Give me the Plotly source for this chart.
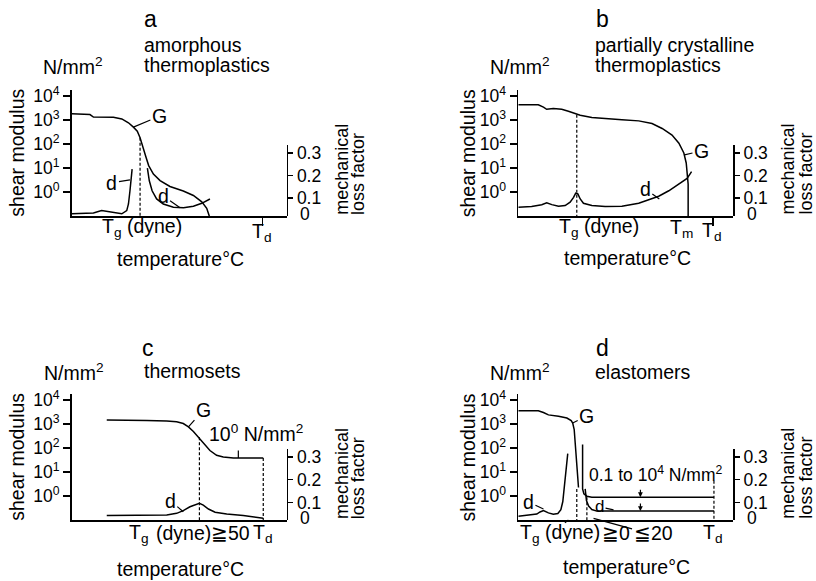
import numpy as np
import plotly.graph_objects as go

W, H = 816, 581
FONT = "Liberation Sans, Arial, Helvetica, sans-serif"

# ---------------- data (temperature in relative units 0-100) ----------------
G_MIN = 0.1  # bottom of the shear-modulus axis (N/mm^2)

# a: amorphous thermoplastics
a_G_temp = [0, 8.5, 10.1, 19.4, 23.3, 26.4, 28.7, 30.5, 31.8, 33.3, 34.6, 35.8, 38.0,
            41.1, 45.7, 51.9, 56.6, 60.5, 62.8, 64.0]
a_G = [1780, 1660, 1320, 1300, 1100, 760, 500, 340, 182, 60, 27.5, 12.6, 5.6,
       3.0, 1.7, 1.1, 0.72, 0.39, 0.21, 0.1]
a_d1_temp = [0, 7, 10.1, 13.9, 17.1, 20.2, 23.3, 25.6, 26.4, 27.1, 27.6, 28.1]
a_d1 = [0.032, 0.032, 0.035, 0.046, 0.042, 0.035, 0.032, 0.046, 0.075, 0.133, 0.184, 0.228]
a_d2_temp = [35.2, 36.1, 37.4, 39.5, 42.6, 47.3, 52.0, 56.6, 60.5, 64.3]
a_d2 = [0.232, 0.177, 0.133, 0.097, 0.075, 0.061, 0.058, 0.065, 0.078, 0.097]
a_Tg, a_Tg_G, a_Td = 31.8, 182, 88.7

# b: partially crystalline thermoplastics
b_G_temp = [0, 9.3, 11.7, 13.2, 16.3, 20.2, 23.3, 26.4, 28.8, 34.2, 40.4, 48.2, 56.0,
            62.2, 66.9, 71.5, 74.7, 77.0, 78.1, 78.5, 79.0, 79.0]
b_G = [4270, 4270, 3390, 2750, 2950, 2750, 2290, 1820, 1550, 1260, 1120, 1020, 910,
       710, 440, 234, 107, 42, 16.2, 7.2, 2.1, 0.1]
b_d_temp = [0, 6.2, 10.9, 13.2, 15.6, 18.7, 21.8, 24.1, 25.7, 26.7, 27.7, 28.8, 30.3,
            34.2, 40.4, 48.2, 56.0, 60.6, 65.3, 70.0, 74.6, 78.5, 80.6]
b_d = [0.061, 0.064, 0.072, 0.080, 0.072, 0.065, 0.068, 0.083, 0.104, 0.122, 0.119, 0.097,
       0.078, 0.068, 0.064, 0.065, 0.078, 0.093, 0.109, 0.133, 0.162, 0.187, 0.217]
b_Tg, b_Tg_G, b_Td = 27.2, 1620, 90.7

# c: thermosets
c_G_temp = [16.3, 25.6, 34.9, 44.2, 48.8, 51.9, 54.3, 56.6, 58.9, 61.2, 64.3, 67.4,
            70.5, 75.2, 81.4, 89.1]
c_G = [1480, 1480, 1410, 1320, 1230, 1050, 760, 490, 282, 151, 79, 50, 43, 39, 39, 39]
c_d_temp = [16.3, 33.3, 44.2, 48.8, 51.9, 55.0, 57.4, 59.4, 61.2, 63.6, 66.7, 72.1, 79.8, 89.1]
c_d = [0.042, 0.042, 0.045, 0.052, 0.064, 0.081, 0.091, 0.096, 0.088, 0.071, 0.057,
       0.049, 0.042, 0.030]
c_Tg, c_Tg_G, c_Td, c_Td_G = 59.4, 282, 89.1, 39

# d: elastomers
d_G_temp = [0, 9.3, 11.7, 14.0, 18.7, 22.6, 24.6, 25.3, 26.0, 26.4, 26.9, 27.2, 27.5, 28.0]
d_G = [3550, 3550, 3020, 2400, 2090, 1780, 1380, 1100, 590, 166, 47, 13.2, 5.1, 2.3]
d_hi_temp = [29.9, 29.9, 30.5, 31.9, 34.2, 91.0]
d_hi = [141, 2.0, 1.26, 1.0, 0.91, 0.91]
d_lo_temp = [31.1, 31.7, 32.7, 34.2, 36.5, 91.0]
d_lo = [2.0, 0.66, 0.39, 0.28, 0.24, 0.24]
d_d_temp = [0, 3.1, 6.2, 8.6, 10.1, 11.7, 14.0, 16.3, 18.4, 19.8, 20.7, 21.3, 21.9, 22.6, 23.0]
d_d = [0.039, 0.042, 0.045, 0.049, 0.058, 0.064, 0.054, 0.048, 0.051, 0.068, 0.104,
       0.162, 0.235, 0.286, 0.314]
d_Tg, d_Tg_G = 27.2, 2.0
d_T20, d_T20_G = 31.9, 0.91
d_Td, d_Td_G = 91.0, 4.4

G_tickvals = [1, 10, 100, 1000, 10000]
G_ticktext = ["10<sup>0</sup>", "10<sup>1</sup>", "10<sup>2</sup>", "10<sup>3</sup>", "10<sup>4</sup>"]
d_tickvals = [0.1, 0.2, 0.3]
d_ticktext = ["0.1", "0.2", "0.3"]

# ---------------- geometry (pixels) ----------------
PW = 215.0          # plot width
GH = 127.6          # height of shear-modulus axis
DH = 72.3           # height of loss-factor axis
G_RANGE = [-1, 4.25]
D_RANGE = [0.0217, 0.336]
LW = 1.7
CW = 1.5
TICKF = 17.5
TXT = 19.5
TDY = -4.5   # vertical correction for text boxes

panels = [
    dict(xl=71.7, yb=212.3, td=a_Td),
    dict(xl=518.3, yb=212.3, td=b_Td),
    dict(xl=71.7, yb=519.6, td=None),
    dict(xl=518.3, yb=519.6, td=None),
]

fig = go.Figure()
layout = dict(width=W, height=H, margin=dict(l=0, r=0, t=0, b=0),
              paper_bgcolor="white", plot_bgcolor="rgba(0,0,0,0)", showlegend=False,
              font=dict(family=FONT, size=TXT, color="black"))

axref = []
for k, p in enumerate(panels, start=1):
    xl, yb = p["xl"], p["yb"]
    xid = "" if k == 1 else str(k)
    yl = 2 * k - 1
    yr = 2 * k
    yl_id = "" if yl == 1 else str(yl)
    layout["xaxis" + xid] = dict(
        domain=[xl / W, (xl + PW) / W], range=[0, 100], anchor="y" + yl_id,
        showline=True, linecolor="black", linewidth=LW, showgrid=False, zeroline=False,
        showticklabels=False, ticks="outside" if p["td"] is not None else "",
        tickvals=[p["td"]] if p["td"] is not None else [], ticklen=8, tickwidth=LW,
        tickcolor="black", fixedrange=True)
    layout["yaxis" + yl_id] = dict(
        domain=[1 - yb / H, 1 - (yb - GH) / H], type="log", range=G_RANGE,
        anchor="x" + xid, showline=True, linecolor="black", linewidth=LW,
        showgrid=False, zeroline=False, ticks="outside", ticklen=7, tickwidth=LW,
        tickcolor="black", tickvals=G_tickvals, ticktext=G_ticktext,
        tickfont=dict(size=TICKF), fixedrange=True)
    layout["yaxis" + str(yr)] = dict(
        domain=[1 - yb / H, 1 - (yb - DH) / H], range=D_RANGE, anchor="x" + xid,
        side="right", showline=True, linecolor="black", linewidth=LW,
        showgrid=False, zeroline=False, ticks="outside", ticklen=5, tickwidth=LW,
        tickcolor="black", tickvals=d_tickvals, ticktext=d_ticktext,
        tickfont=dict(size=TICKF), fixedrange=True)
    axref.append(("x" + xid, "y" + yl_id, "y" + str(yr)))


def line(ax, x, y, dash=None, right=False):
    xa, ya, yb_ = ax
    fig.add_trace(go.Scatter(x=x, y=y, mode="lines", xaxis=xa,
                             yaxis=yb_ if right else ya, hoverinfo="skip",
                             line=dict(color="black", width=1.2 if dash else CW, dash=dash)))


DASH = "3px,2px"
A, B, C, D = axref
# panel a
line(A, a_G_temp, a_G)
line(A, a_d1_temp, a_d1, right=True)
line(A, a_d2_temp, a_d2, right=True)
line(A, [a_Tg, a_Tg], [a_Tg_G, G_MIN], dash=DASH)
# panel b
line(B, b_G_temp, b_G)
line(B, b_d_temp, b_d, right=True)
line(B, [b_Tg, b_Tg], [b_Tg_G, G_MIN], dash=DASH)
# panel c
line(C, c_G_temp, c_G)
line(C, c_d_temp, c_d, right=True)
line(C, [c_Tg, c_Tg], [c_Tg_G, G_MIN], dash=DASH)
line(C, [c_Td, c_Td], [c_Td_G, G_MIN], dash=DASH)
# panel d
line(D, d_G_temp, d_G)
line(D, d_hi_temp, d_hi)
line(D, d_lo_temp, d_lo)
line(D, d_d_temp, d_d, right=True)
line(D, [d_Tg, d_Tg], [d_Tg_G, G_MIN], dash=DASH)
line(D, [d_T20, d_T20], [d_T20_G, G_MIN], dash=DASH)
line(D, [d_Td, d_Td], [d_Td_G, G_MIN], dash=DASH)

ann = []


def txt(t, x, y, xa="left", ya="middle", size=TXT, angle=0):
    yy = y + (TDY if angle == 0 else 0)
    ann.append(dict(text=t, x=x / W, y=1 - yy / H, xref="paper", yref="paper",
                    xanchor=xa, yanchor=ya, showarrow=False, textangle=angle,
                    font=dict(size=size, family=FONT, color="black")))


def lead(t, ax_, x, y, dx, dy, log=True, right=False, head=0, size=TXT):
    xa, ya, yb_ = ax_
    ann.append(dict(text=t, x=x, y=np.log10(y) if (log and not right) else y,
                    xref=xa, yref=yb_ if right else ya, ax=dx, ay=dy,
                    showarrow=True, arrowhead=head, arrowwidth=1.2, arrowsize=0.8,
                    arrowcolor="black", standoff=0, startstandoff=0,
                    font=dict(size=size, family=FONT, color="black")))


MOD = "N/mm<sup>2</sup>"
TEMP = "temperature°C"

txt("a", 142, 18, size=23)
txt("amorphous", 142, 44)
txt("thermoplastics", 142, 64)
txt("b", 594, 18, size=23)
txt("partially crystalline", 593.3, 43.5)
txt("thermoplastics", 593.3, 64)
txt("c", 140, 350, size=23)
txt("thermosets", 141.7, 373.5)
txt("d", 594, 350, size=23)
txt("elastomers", 593.3, 374)

for (nx, ny) in [(41, 65), (488.3, 65), (41.7, 374), (488.3, 374)]:
    txt(MOD, nx, ny)

for (sx, sy, mx, lx, by, zx) in [(16.7, 148.5, 342.5, 358.3, 213, 298),
                                 (468.3, 148.5, 788.3, 805.7, 213, 744.6),
                                 (16.7, 455.8, 342.5, 358.3, 520.3, 298),
                                 (468.3, 455.8, 788.3, 805.7, 520.3, 744.6)]:
    txt("shear modulus", sx, sy, xa="center", angle=-90)
    txt("mechanical", mx, by, xa="center", ya="bottom", size=18, angle=-90)
    txt("loss factor", lx, by, xa="center", ya="bottom", size=18, angle=-90)
    txt("0", zx, by + 1.5, size=TICKF)

# x-axis labels
txt("T<sub>g</sub> (dyne)", 100, 228)
txt("T<sub>d</sub>", 261.5, 233, xa="center")
txt(TEMP, 180.5, 260.5, xa="center")

txt("T<sub>g</sub> (dyne)", 556.7, 228)
txt("T<sub>m</sub>", 668.3, 229)
txt("T<sub>d</sub>", 711.7, 232, xa="center")
txt(TEMP, 627.5, 259, xa="center")

txt("T<sub>g</sub>", 126.7, 537)
txt("(dyne)", 154, 537)
txt("≧50", 209, 537)
txt("T<sub>d</sub>", 262.5, 537, xa="center")
txt("10<sup>0</sup> N/mm<sup>2</sup>", 206.7, 436)
txt(TEMP, 180.8, 573, xa="center")

txt("T<sub>g</sub> (dyne)", 518.3, 537)
txt("≧0", 599.5, 537)
txt("≦20", 631.7, 537)
txt("T<sub>d</sub>", 712.5, 538, xa="center")
txt("0.1 to 10<sup>4</sup> N/mm<sup>2</sup>", 586.7, 477, size=17.5)
txt(TEMP, 626.7, 571, xa="center")

# leaders
lead("G", A, 28.7, 500, 26, -11)
lead("d", A, 27.1, 0.181, -18, 3, right=True)
lead("d", A, 50.4, 0.058, -17, -12, right=True)
lead("G", B, 77.3, 35, 17, -4)
lead("d", B, 65.6, 0.097, -14, -10, right=True)
lead("G", C, 54.3, 760, 15, -17)
lead("", C, 77.5, 39, 0, -9)
lead("d", C, 51.9, 0.059, -13, -11, right=True)
lead("G", D, 25.3, 1100, 14, -7)
lead("d", D, 11.7, 0.071, -15, -7, right=True)
lead("d", D, 44.3, 0.27, -14, -3, size=17)
lead("", D, 56.8, 0.91, 0, -9, head=2)
lead("", D, 56.8, 0.24, 0, -9, head=2)
lead("", D, 23.3, 0.102, -5, 4)
lead("", D, 35.0, 0.12, 40, 11)

layout["annotations"] = ann
fig.update_layout(**layout)
fig.write_html("out.html", config={"displayModeBar": False, "staticPlot": True},
               post_script="document.body.style.margin='0';document.body.style.overflow='hidden';")
